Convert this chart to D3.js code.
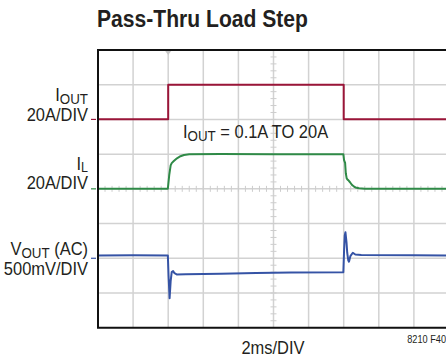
<!DOCTYPE html>
<html>
<head>
<meta charset="utf-8">
<script src="https://cdn.jsdelivr.net/npm/d3@7"></script>
<style>
  html, body { margin: 0; padding: 0; background: #fff; }
  svg { display: block; }
  text { font-family: "Liberation Sans", Arial, sans-serif; fill: #231f20; }
</style>
</head>
<body>
<svg id="chart" width="446" height="360"></svg>
<script>
// ---- data (time in ms) ----
const title = "Pass-Thru Load Step";
const xLabel = "2ms/DIV";
const figId = "8210 F40";

// IOUT (A), 20A/DIV
const ioutT = [0, 4.0, 4.0, 14.0, 14.0, 20];
const ioutA = [0.1, 0.1, 20, 20, 0.1, 0.1];

// IL (A), 20A/DIV
const ilT = [0, 3.98, 4.06, 4.14, 4.20, 4.32, 4.50, 4.70, 4.90, 5.2, 7.0, 10.0, 12.0, 13.98, 14.02, 14.08, 14.12, 14.17, 14.22, 14.26, 14.36, 14.48, 14.60, 14.72, 14.88, 15.2, 20];
const ilA = [0.1, 0.1, 8.0, 13.5, 14.8, 16.0, 17.6, 18.8, 19.5, 19.9, 20.1, 20.0, 20.0, 20.0, 16.5, 15.0, 9.0, 6.0, 5.3, 5.0, 3.8, 2.2, 1.2, 0.6, 0.3, 0.1, 0.1];

// VOUT (AC) (mV), 500mV/DIV
const voutT = [0, 2.0, 3.98, 4.02, 4.08, 4.14, 4.20, 4.28, 4.36, 4.48, 5.0, 7.0, 9.0, 11.0, 13.98, 14.02, 14.06, 14.10, 14.16, 14.20, 14.26, 14.30, 14.38, 14.52, 14.66, 15.0, 18.0, 20];
const voutMV = [40, 42, 40, -250, -576, -330, -200, -185, -215, -232, -230, -222, -212, -205, -200, 100, 330, 374, 230, 80, -30, -49, 30, 80, 55, 47, 43, 40];

// channel labels
const chLabels = [
  { main: "I", sub: "OUT", rest: "", scale: "20A/DIV" },
  { main: "I", sub: "L", rest: "", scale: "20A/DIV" },
  { main: "V", sub: "OUT", rest: " (AC)", scale: "500mV/DIV" }
];
const annoMain = "I", annoSub = "OUT", annoRest = " = 0.1A TO 20A";

// ---- layout ----
const svg = d3.select("#chart");
const plot = { left: 98, top: 50, right: 449, bottom: 327.7 };
const nXDiv = 10, nYDiv = 8;

const x = d3.scaleLinear().domain([0, 20]).range([plot.left, plot.right]);
const yDiv = d3.scaleLinear().domain([-4, 4]).range([plot.bottom, plot.top]);

// channel: ground position in divisions, units per division
const channels = [
  { ground: 2, perDiv: 20, color: "#9a1538", t: ioutT, v: ioutA },
  { ground: 0, perDiv: 20, color: "#2f8a47", t: ilT, v: ilA },
  { ground: -2, perDiv: 500, color: "#3553a5", t: voutT, v: voutMV }
];

// grid
const gridColor = "#d2d2d2";
const xTicks = d3.range(1, nXDiv).map(i => i * 2);
const yTicks = d3.range(-3, 4);
const g = svg.append("g");

g.selectAll("line.vg").data(xTicks).join("line").attr("class", "vg")
  .attr("x1", d => x(d)).attr("x2", d => x(d))
  .attr("y1", plot.top).attr("y2", plot.bottom)
  .attr("stroke", gridColor).attr("stroke-width", 1.5);
g.selectAll("line.hg").data(yTicks).join("line").attr("class", "hg")
  .attr("x1", plot.left).attr("x2", plot.right)
  .attr("y1", d => yDiv(d)).attr("y2", d => yDiv(d))
  .attr("stroke", gridColor).attr("stroke-width", 1.5);

// minor ticks on center axes
const minorX = d3.range(0, 20.001, 0.4).filter(d => d > 0 && d < 20);
const minorY = d3.range(-4, 4.001, 0.2).filter(d => d > -4 && d < 4);
g.selectAll("line.mx").data(minorX).join("line").attr("class", "mx")
  .attr("x1", d => x(d)).attr("x2", d => x(d))
  .attr("y1", yDiv(0) - 3).attr("y2", yDiv(0) + 3)
  .attr("stroke", "#cdcdcd").attr("stroke-width", 1);
g.selectAll("line.my").data(minorY).join("line").attr("class", "my")
  .attr("x1", x(10) - 3).attr("x2", x(10) + 3)
  .attr("y1", d => yDiv(d)).attr("y2", d => yDiv(d))
  .attr("stroke", "#cdcdcd").attr("stroke-width", 1);

// trigger marker
svg.append("path")
  .attr("d", `M${x(4) - 3},${plot.top + 1} L${x(4) + 3},${plot.top + 1} L${x(4)},${plot.top + 5} Z`)
  .attr("fill", "#c8c8c8");

// traces
svg.append("clipPath").attr("id", "clip")
  .append("rect").attr("x", plot.left).attr("y", plot.top)
  .attr("width", plot.right - plot.left).attr("height", plot.bottom - plot.top);

channels.forEach(ch => {
  const yv = v => yDiv(ch.ground + v / ch.perDiv);
  const pts = ch.t.map((t, i) => [t, ch.v[i]]);
  svg.append("path")
    .attr("clip-path", "url(#clip)")
    .attr("d", d3.line().x(d => x(d[0])).y(d => yv(d[1]))(pts))
    .attr("fill", "none").attr("stroke", ch.color)
    .attr("stroke-width", 2).attr("stroke-linejoin", "round");
  // ground marker
  svg.append("line")
    .attr("x1", plot.left - 7).attr("x2", plot.left - 2)
    .attr("y1", yDiv(ch.ground)).attr("y2", yDiv(ch.ground))
    .attr("stroke", ch.color).attr("stroke-width", 1.2);
});

// frame (left, top, bottom)
svg.append("path")
  .attr("d", `M${plot.right + 2},${plot.top} L${plot.left},${plot.top} L${plot.left},${plot.bottom} L${plot.right + 2},${plot.bottom}`)
  .attr("fill", "none").attr("stroke", "#111").attr("stroke-width", 2);

// condensed text helper
function ctext(px, py, anchor, size, sx) {
  return svg.append("g").attr("transform", `translate(${px},${py}) scale(${sx},1)`)
    .append("text").attr("x", 0).attr("y", 0)
    .attr("text-anchor", anchor).attr("font-size", size);
}

// title
svg.append("text").attr("x", 97).attr("y", 27)
  .attr("font-size", 23).attr("font-weight", "bold")
  .attr("textLength", 211).attr("lengthAdjust", "spacingAndGlyphs")
  .text(title);

// channel labels
const SX = 0.89, FS = 18.5;
const labelRight = 88;
const labelPos = [
  { y1: 100.5, subDy: 3, subSize: 15, y2: 121 },
  { y1: 169.5, subDy: 2.5, subSize: 14, y2: 188.5 },
  { y1: 255, subDy: 3, subSize: 15, y2: 275 }
];
chLabels.forEach((l, i) => {
  const p = labelPos[i];
  const t = ctext(labelRight, p.y1, "end", FS, SX);
  t.append("tspan").text(l.main);
  t.append("tspan").attr("dy", p.subDy).attr("font-size", p.subSize).text(l.sub);
  if (l.rest) t.append("tspan").attr("dy", -p.subDy).text(l.rest);
  ctext(labelRight, p.y2, "end", FS, SX).text(l.scale);
});

// annotation
const an = ctext(183, 138, "start", FS, SX);
an.append("tspan").text(annoMain);
an.append("tspan").attr("dy", 3).attr("font-size", 15).text(annoSub);
an.append("tspan").attr("dy", -3).text(annoRest);

// x label
ctext(273, 354, "middle", FS, SX).text(xLabel);

// figure id
ctext(446, 342.5, "end", 10, 0.92).text(figId);
</script>
</body>
</html>
